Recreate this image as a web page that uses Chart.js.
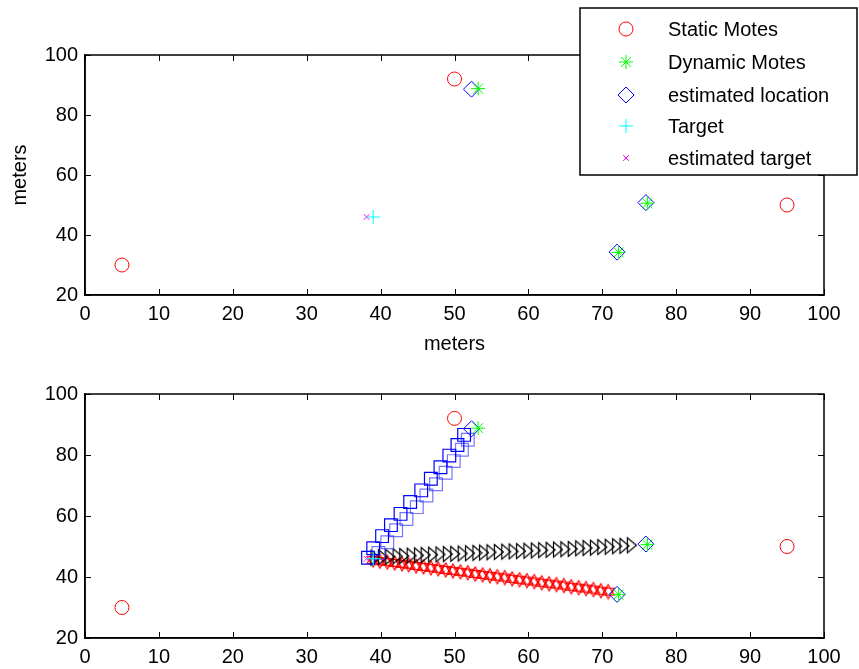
<!DOCTYPE html>
<html>
<head>
<meta charset="utf-8">
<script src="https://cdn.jsdelivr.net/npm/chart.js@4.4.1/dist/chart.umd.min.js"></script>
<style>
  body { margin: 0; background: #fff; }
  #wrap { position: relative; width: 859px; height: 669px; }
  #topChart { position: absolute; left: 0; top: 0; }
  #bottomChart { position: absolute; left: 0; top: 340px; }
</style>
</head>
<body>
<div id="wrap">
  <canvas id="bottomChart" width="859" height="329"></canvas>
  <canvas id="topChart" width="859" height="360"></canvas>
</div>
<script>
// Motes and target
const staticX = [5, 50, 95];
const staticY = [30, 92, 50];
const dynamicX = [53.2, 72.2, 76.1];
const dynamicY = [88.8, 34.2, 50.6];
const estX = [52.3, 72.0, 75.9];
const estY = [88.6, 34.3, 50.8];
const targetX = [39.0];
const targetY = [46.0];
const estTargetX = [38.1];
const estTargetY = [46.0];

// Tracks in the lower plot
const squareX = [38.3, 39.0, 40.2, 41.4, 42.7, 44.0, 45.5, 46.8, 48.1, 49.3, 50.4, 51.3];
const squareY = [46.3, 49.4, 53.4, 57.0, 60.7, 64.6, 68.4, 72.2, 76.0, 79.8, 83.3, 86.6];
const square2X = [39.7, 40.9, 42.1, 43.5, 44.9, 46.2, 47.5, 48.8, 49.9, 51.0, 51.8];
const square2Y = [47.9, 51.4, 55.3, 59.0, 62.9, 66.7, 70.4, 74.2, 78.0, 81.7, 85.0];
const triX = [39.3, 40.3, 41.3, 42.3, 43.2, 44.2, 45.2, 46.1, 47.1, 48.1, 49.1, 50.1, 51.1, 52.1, 53.1, 54.0, 55.0, 56.0, 57.0, 58.0, 59.0, 60.0, 61.0, 62.0, 63.0, 64.0, 65.0, 66.0, 67.0, 68.0, 69.0, 70.0, 71.0, 72.0, 73.0, 74.0];
const triY = [46.3, 46.5, 46.6, 46.8, 46.9, 47.0, 47.1, 47.2, 47.3, 47.4, 47.5, 47.6, 47.7, 47.8, 47.9, 48.0, 48.1, 48.2, 48.3, 48.4, 48.5, 48.6, 48.7, 48.8, 48.9, 49.0, 49.1, 49.2, 49.4, 49.5, 49.6, 49.8, 49.9, 50.1, 50.2, 50.4];
const hexX = [39.0, 39.9, 40.9, 41.9, 42.9, 43.8, 44.8, 45.8, 46.8, 47.8, 48.8, 49.8, 50.8, 51.8, 52.8, 53.8, 54.8, 55.8, 56.8, 57.8, 58.8, 59.8, 60.8, 61.8, 62.8, 63.8, 64.8, 65.8, 66.8, 67.8, 68.8, 69.8, 70.8];
const hexY = [45.6, 45.2, 44.9, 44.6, 44.3, 44.0, 43.6, 43.3, 43.0, 42.7, 42.3, 42.0, 41.7, 41.4, 41.0, 40.7, 40.4, 40.1, 39.8, 39.4, 39.1, 38.8, 38.5, 38.1, 37.8, 37.5, 37.2, 36.8, 36.5, 36.2, 35.9, 35.5, 35.2];

const xTicks = [0, 10, 20, 30, 40, 50, 60, 70, 80, 90, 100];
const yTicks = [20, 40, 60, 80, 100];

const legendLabels = ['Static Motes', 'Dynamic Motes', 'estimated location', 'Target', 'estimated target'];

Chart.defaults.font.family = "'Liberation Sans', Arial, sans-serif";
Chart.defaults.font.size = 20;
Chart.defaults.color = '#000';

function pts(xs, ys) {
    return xs.map((x, i) => ({ x: x, y: ys[i] }));
}

// Custom marker images for the right triangles and hexagrams
function makeTriangle(color) {
    const c = document.createElement('canvas');
    c.width = 14; c.height = 20;
    const g = c.getContext('2d');
    g.strokeStyle = color;
    g.lineWidth = 1.2;
    g.beginPath();
    g.moveTo(2.5, 2.5); g.lineTo(11.5, 10); g.lineTo(2.5, 17.5); g.closePath();
    g.stroke();
    return c;
}

function makeHexagram(color) {
    const c = document.createElement('canvas');
    c.width = 18; c.height = 18;
    const g = c.getContext('2d');
    g.strokeStyle = color;
    g.lineWidth = 1.2;
    const r = 7;
    [-90, 90].forEach(start => {
        g.beginPath();
        for (let k = 0; k < 3; k++) {
            const a = (start + k * 120) * Math.PI / 180;
            const px = 9 + r * Math.cos(a), py = 9 + r * Math.sin(a);
            if (k === 0) g.moveTo(px, py); else g.lineTo(px, py);
        }
        g.closePath();
        g.stroke();
    });
    return c;
}

function markerSets() {
    return [
        { label: legendLabels[0], data: pts(staticX, staticY), pointStyle: 'circle', pointRadius: 7, borderColor: '#ff0000', backgroundColor: 'transparent', borderWidth: 1 },
        { label: legendLabels[1], data: pts(dynamicX, dynamicY), pointStyle: 'star', pointRadius: 7, borderColor: '#00ff00', backgroundColor: 'transparent', borderWidth: 1 },
        { label: legendLabels[2], data: pts(estX, estY), pointStyle: 'rectRot', pointRadius: 8, borderColor: '#0000ff', backgroundColor: 'transparent', borderWidth: 1 },
        { label: legendLabels[3], data: pts(targetX, targetY), pointStyle: 'cross', pointRadius: 7, borderColor: '#00ffff', backgroundColor: 'transparent', borderWidth: 1 },
        { label: legendLabels[4], data: pts(estTargetX, estTargetY), pointStyle: 'crossRot', pointRadius: 4, borderColor: '#ff00ff', backgroundColor: 'transparent', borderWidth: 1 }
    ];
}

// MATLAB style box with inward ticks
const boxTicks = {
    id: 'boxTicks',
    afterDraw(chart) {
        const { ctx, chartArea: a, scales } = chart;
        ctx.save();
        ctx.strokeStyle = '#000';
        ctx.lineWidth = 1;
        xTicks.forEach(v => {
            const px = Math.round(scales.x.getPixelForValue(v)) + 0.5;
            ctx.beginPath();
            ctx.moveTo(px, a.bottom); ctx.lineTo(px, a.bottom - 6);
            ctx.moveTo(px, a.top); ctx.lineTo(px, a.top + 6);
            ctx.stroke();
        });
        yTicks.forEach(v => {
            const py = Math.round(scales.y.getPixelForValue(v)) + 0.5;
            ctx.beginPath();
            ctx.moveTo(a.left, py); ctx.lineTo(a.left + 6, py);
            ctx.moveTo(a.right, py); ctx.lineTo(a.right - 6, py);
            ctx.stroke();
        });
        ctx.lineWidth = 1.5;
        ctx.strokeRect(a.left, a.top, a.right - a.left, a.bottom - a.top);
        ctx.restore();
    }
};

const boxLegend = {
    id: 'boxLegend',
    afterDraw(chart) {
        const ctx = chart.ctx;
        ctx.save();
        ctx.fillStyle = '#fff';
        ctx.fillRect(580, 8, 277, 167);
        ctx.strokeStyle = '#000';
        ctx.lineWidth = 1.5;
        ctx.strokeRect(580, 8, 277, 167);
        const rows = [29, 62, 95, 126, 158];
        chart.data.datasets.forEach((ds, i) => {
            ctx.strokeStyle = ds.borderColor;
            ctx.fillStyle = 'transparent';
            ctx.lineWidth = 1;
            Chart.helpers.drawPoint(ctx, { pointStyle: ds.pointStyle, radius: ds.pointRadius, borderWidth: 1, rotation: 0 }, 626, rows[i]);
            ctx.fillStyle = '#000';
            ctx.font = "20px 'Liberation Sans', Arial, sans-serif";
            ctx.textBaseline = 'middle';
            ctx.fillText(ds.label, 668, rows[i] + 1);
        });
        ctx.restore();
    }
};

function axisOptions(withTitles, xHeight) {
    return {
        x: {
            type: 'linear', min: 0, max: 100,
            grid: { display: false, drawTicks: false },
            border: { display: true, color: '#000', width: 1.5 },
            ticks: { stepSize: 10, padding: 7, maxRotation: 0 },
            title: { display: withTitles, text: 'meters', padding: { top: 4, bottom: 4 } },
            afterFit: s => { s.height = xHeight; }
        },
        y: {
            type: 'linear', min: 20, max: 100,
            grid: { display: false, drawTicks: false },
            border: { display: true, color: '#000', width: 1.5 },
            ticks: { stepSize: 20, padding: 7 },
            title: { display: withTitles, text: 'meters', padding: { top: 8, bottom: 4 } },
            afterFit: s => { s.width = 85; }
        }
    };
}

new Chart(document.getElementById('topChart'), {
    type: 'scatter',
    data: { datasets: markerSets() },
    options: {
        responsive: false,
        animation: false,
        layout: { padding: { top: 55, right: 35, left: 0, bottom: 0 } },
        plugins: { legend: { display: false }, tooltip: { enabled: false } },
        scales: axisOptions(true, 65)
    },
    plugins: [boxTicks, boxLegend]
});

const triImg = makeTriangle('#000000');
const hexImg = makeHexagram('#ff0000');

const trailSets = [
    { label: 'sq', data: pts(squareX, squareY), pointStyle: 'rect', pointRadius: 9, borderColor: '#0000ff', backgroundColor: 'transparent', borderWidth: 1.2 },
    { label: 'sq2', data: pts(square2X, square2Y), pointStyle: 'rect', pointRadius: 9, borderColor: 'rgba(60,60,255,0.7)', backgroundColor: 'transparent', borderWidth: 1.2 },
    { label: 'tri', data: pts(triX, triY), pointStyle: triImg, borderColor: '#000' },
    { label: 'hex', data: pts(hexX, hexY), pointStyle: hexImg, borderColor: '#f00' }
];

new Chart(document.getElementById('bottomChart'), {
    type: 'scatter',
    data: { datasets: markerSets().concat(trailSets) },
    options: {
        responsive: false,
        animation: false,
        layout: { padding: { top: 54, right: 35, left: 0, bottom: 0 } },
        plugins: { legend: { display: false }, tooltip: { enabled: false } },
        scales: axisOptions(false, 31)
    },
    plugins: [boxTicks]
});
</script>
</body>
</html>
